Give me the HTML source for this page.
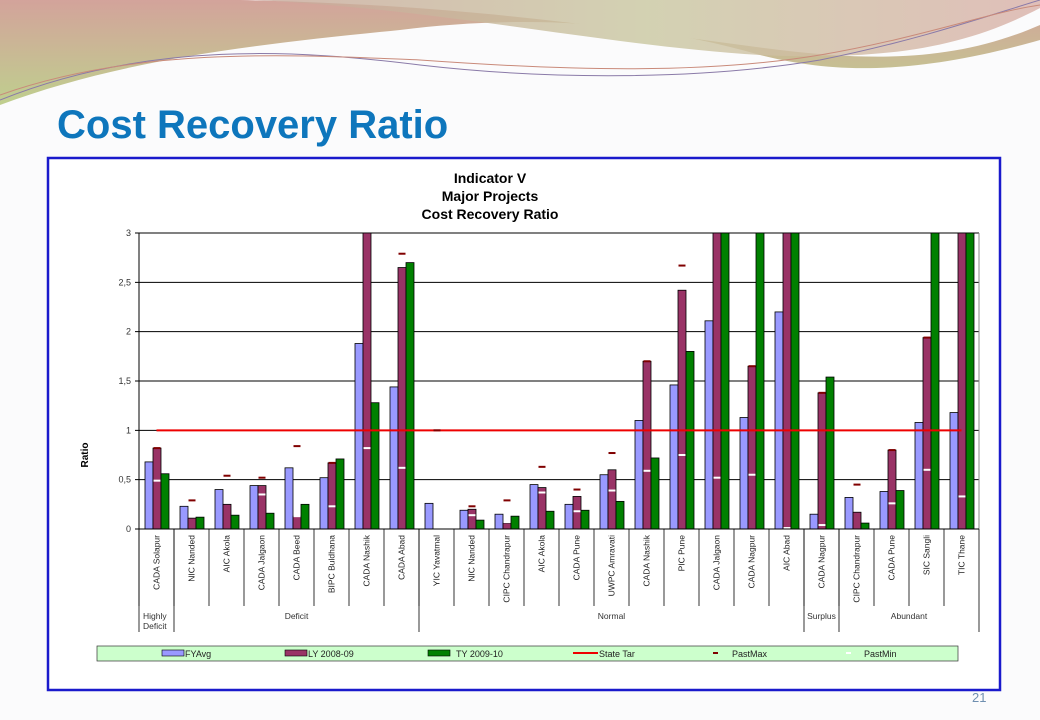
<!DOCTYPE html>
<html><head><meta charset="utf-8"><style>
body{margin:0;width:1040px;height:720px;overflow:hidden;background:#fbfbfc;font-family:"Liberation Sans",sans-serif}
</style></head><body>
<svg id="s" width="1040" height="720" xmlns="http://www.w3.org/2000/svg" style="position:absolute;left:0;top:0">
<defs>
<linearGradient id="g1" x1="0" y1="0" x2="1" y2="0"><stop offset="0" stop-color="#c9a79a"/><stop offset="0.5" stop-color="#c9c7a0"/><stop offset="1" stop-color="#d9b0a8"/></linearGradient>
<linearGradient id="g2" x1="0" y1="0" x2="0" y2="1"><stop offset="0" stop-color="#d3a39b"/><stop offset="1" stop-color="#bfcf8e"/></linearGradient>
</defs>
<g>
<path d="M0 0 H1040 V40 C900 80 820 70 760 55 C640 20 520 15 400 30 C250 45 120 60 0 105 Z" fill="url(#g2)"/>
<path d="M240 0 H1040 V25 C960 60 880 62 780 50 C620 30 480 5 240 0 Z" fill="#fbfbfc"/>
<path d="M255 0 H1040 V8 C960 50 880 60 760 55 C600 45 450 10 255 0 Z" fill="url(#g1)" opacity="0.8"/>
<path d="M0 100 C150 40 300 50 420 65 C550 80 700 80 820 60 C920 40 990 15 1040 0" stroke="#8a7aa8" stroke-width="1" fill="none"/>
<path d="M0 95 C140 45 300 55 420 60 C560 70 700 75 820 55 C920 38 990 12 1040 5" stroke="#c98a7a" stroke-width="1" fill="none"/>
</g>
<text x="57" y="138" font-family="Liberation Sans, sans-serif" font-size="40" font-weight="bold" fill="#0e76bc">Cost Recovery Ratio</text>
<rect x="48" y="158" width="952" height="532" fill="#fff" stroke="#1a1acc" stroke-width="2.5"/>
<text x="972" y="702" font-size="13" fill="#6f8fb0">21</text>
<g font-size="14" font-weight="bold" text-anchor="middle">
<text x="490" y="183">Indicator V</text><text x="490" y="201">Major Projects</text><text x="490" y="219">Cost Recovery Ratio</text></g>
<text transform="translate(88,455) rotate(-90)" font-size="10" font-weight="bold" text-anchor="middle">Ratio</text>
<g id="plot"></g>
<rect x="97" y="646" width="861" height="15" fill="#ccffcc" stroke="#333" stroke-width="0.7"/>
<g font-size="9" fill="#222">
<g><rect x="162" y="650" width="22" height="6" fill="#9999ff" stroke="#000" stroke-width="0.6"/><text x="185" y="657">FYAvg</text></g>
<g><rect x="285" y="650" width="22" height="6" fill="#993366" stroke="#000" stroke-width="0.6"/><text x="308" y="657">LY 2008-09</text></g>
<g><rect x="428" y="650" width="22" height="6" fill="#008000" stroke="#000" stroke-width="0.6"/><text x="456" y="657">TY 2009-10</text></g>
<g><line x1="573" y1="653" x2="598" y2="653" stroke="#e00" stroke-width="2"/><text x="599" y="657">State Tar</text></g>
<g><rect x="713" y="652" width="5" height="2" fill="#800000"/><text x="732" y="657">PastMax</text></g>
<g><rect x="846" y="652" width="5" height="2" fill="#fff"/><text x="864" y="657">PastMin</text></g>
</g>
</svg>
<script>
const categories=["CADA Solapur","NIC Nanded","AIC Akola","CADA Jalgaon","CADA Beed","BIPC Buldhana","CADA Nashik","CADA Abad","YIC Yavatmal","NIC Nanded","CIPC Chandrapur","AIC Akola","CADA Pune","UWPC Amravati","CADA Nashik","PIC Pune","CADA Jalgaon","CADA Nagpur","AIC Abad","CADA Nagpur","CIPC Chandrapur","CADA Pune","SIC Sangli","TIC Thane"];
const fyAvg=[0.68,0.23,0.40,0.44,0.62,0.52,1.88,1.44,0.26,0.19,0.15,0.45,0.25,0.55,1.10,1.46,2.11,1.13,2.20,0.15,0.32,0.38,1.08,1.18];
const ly=[0.82,0.11,0.25,0.44,0.13,0.67,3.5,2.65,null,0.20,0.06,0.42,0.33,0.60,1.70,2.42,3.5,1.65,3.5,1.38,0.17,0.80,1.94,3.5];
const ty=[0.56,0.12,0.14,0.16,0.25,0.71,1.28,2.70,null,0.09,0.13,0.18,0.19,0.28,0.72,1.80,3.5,3.5,3.5,1.54,0.06,0.39,3.5,3.5];
const pastMax=[0.82,0.29,0.54,0.52,0.84,0.67,null,2.79,1.0,0.23,0.29,0.63,0.40,0.77,1.70,2.67,null,1.65,null,1.38,0.45,0.80,1.94,null];
const pastMin=[0.49,null,null,0.35,0.13,0.23,0.82,0.62,null,0.14,0.07,0.37,0.18,0.39,0.59,0.75,0.52,0.55,0.01,0.04,null,0.26,0.60,0.33];
const stateTarget=1;
const yTicks=[0,0.5,1,1.5,2,2.5,3];
const yTickLabels=["0","0,5","1","1,5","2","2,5","3"];
const groups=[["Highly\nDeficit",1],["Deficit",7],["Normal",11],["Surplus",1],["Abundant",4]];
const yMax=3;
const X0=139,X1=979,Y0=529,Y1=233;
const step=(X1-X0)/categories.length;
const y=v=>Y0-(Math.min(v,yMax)/yMax)*(Y0-Y1);
const x=i=>X0+i*step;
const NS="http://www.w3.org/2000/svg";
const plot=document.getElementById('plot');
function mk(tag,attrs,parent){const e=document.createElementNS(NS,tag);for(const k in attrs)e.setAttribute(k,attrs[k]);(parent||plot).appendChild(e);return e;}
// gridlines & y labels
yTicks.forEach((t,i)=>{
 const l=mk('line',{x1:X0-4,x2:X1,y1:y(t),y2:y(t),stroke:'#000','stroke-width':1});
 
 
 const tx=mk('text',{x:X0-8,y:y(t)+3,'font-size':9,'text-anchor':'end',fill:'#333'});
 tx.textContent=yTickLabels[i];
 
 
});
const ax=mk('line',{x1:X0,x2:X0,y1:Y1,y2:Y0,stroke:'#000'});


const rax=mk('line',{x1:X1,x2:X1,y1:Y1,y2:Y0,stroke:'#888'});


const bw=8,off=6;
const series=[[fyAvg,'#9999ff','bar-fyavg'],[ly,'#993366','bar-ly'],[ty,'#008000','bar-ty']];
categories.forEach((c,i)=>{
 series.forEach(([arr,col,nm],k)=>{
  const v=arr[i]; if(v==null) return;
  const r=mk('rect',{x:x(i)+off+k*bw,y:y(v),width:bw,height:Y0-y(v),fill:col,stroke:'#000','stroke-width':0.8});
  
  
 });
});
const tl=mk('line',{x1:x(0)+step/2,x2:x(categories.length-1)+step/2,y1:y(stateTarget),y2:y(stateTarget),stroke:'#ee0000','stroke-width':2});


categories.forEach((c,i)=>{
 const cx=x(i)+off+bw*1.5;
 if(pastMax[i]!=null){const m=mk('rect',{x:cx-3.5,y:y(pastMax[i])-1,width:7,height:2,fill:'#800000'});
  
  }
 if(pastMin[i]!=null){const m=mk('rect',{x:cx-3.5,y:y(pastMin[i])-1,width:7,height:2,fill:'#fff'});
  
  }
});
const xa=mk('line',{x1:X0,x2:X1,y1:Y0,y2:Y0,stroke:'#000'});


// category labels
categories.forEach((c,i)=>{
 const sep=mk('line',{x1:x(i),x2:x(i),y1:Y0,y2:606,stroke:'#000','stroke-width':0.8});
 
 
 const t=mk('text',{transform:`translate(${x(i)+step/2+3},${Y0+6}) rotate(-90)`,'font-size':8.5,'text-anchor':'end',fill:'#222'});
 t.textContent=c;
 
 
});
const le=mk('line',{x1:X1,x2:X1,y1:Y0,y2:632,stroke:'#000','stroke-width':0.8});


let gi=0;
groups.forEach(([g,n])=>{
 const gs=mk('line',{x1:x(gi),x2:x(gi),y1:Y0,y2:632,stroke:'#000','stroke-width':0.8});
 
 
 const lines=g.split('\n');
 const cx=lines.length>1?x(gi)+4:x(gi)+n*step/2;
 lines.forEach((ln,j)=>{
  const t=mk('text',{x:cx,y:619+j*10,'font-size':8.5,'text-anchor':lines.length>1?'start':'middle',fill:'#333'});
  t.textContent=ln;
  
  
 });
 gi+=n;
});
</script>
</body></html>
